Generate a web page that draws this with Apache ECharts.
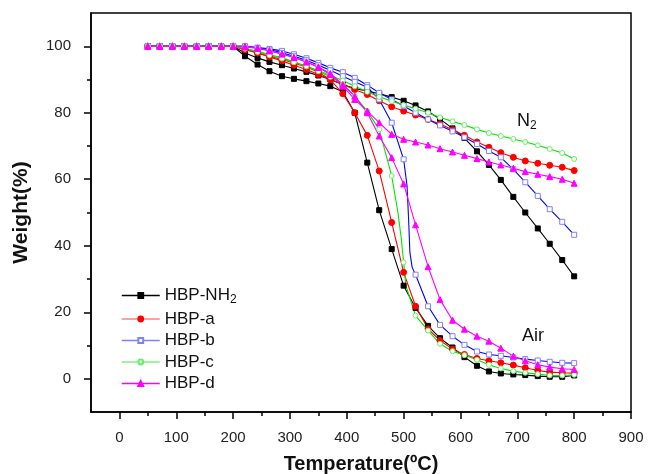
<!DOCTYPE html>
<html>
<head>
<meta charset="utf-8">
<script src="https://cdn.jsdelivr.net/npm/echarts@6/dist/echarts.min.js"></script>
<style>html,body{margin:0;padding:0;background:#fff}#c{width:649px;height:474px}</style>
</head>
<body>
<div id="c"></div>
<script>
// Temperatures (°C) of the marked points
const temps = [50, 71, 93, 114, 136, 157, 179, 200, 221, 243, 264, 286, 307, 329, 350, 371, 393, 414, 436, 457, 479, 500, 521, 543, 564, 586, 607, 629, 650, 671, 693, 714, 736, 757, 779, 800];
const plateau = [100, 100, 100, 100, 100, 100, 100, 100];

// Weight (%) values, N2 and Air, per sample
const nh2N2 = plateau.concat([98, 96.5, 95.3, 94.3, 93.3, 92.3, 91.2, 90, 88.5, 87.3, 86.5, 85.7, 84.7, 83.6, 82.2, 80.4, 78.1, 75.3, 72.4, 68.4, 64.3, 59.8, 54.7, 50.0, 45.2, 40.6, 35.7, 30.8]);
const nh2Air = plateau.concat([97, 94.5, 92.5, 91, 90.2, 89.5, 88.8, 88, 86.3, 80, 65, 50.7, 39, 28, 21.3, 15.9, 12.2, 9.4, 6.5, 3.9, 2.2, 1.6, 1.3, 1.1, 0.8, 0.6, 0.6, 1.0]);
const aN2 = plateau.concat([99, 98, 96.8, 95.6, 94.3, 93, 91.5, 90, 88.5, 87, 85.5, 83.6, 81.8, 80.5, 79.3, 78, 76.6, 74.9, 73.2, 71.2, 69.6, 68, 66.6, 65.5, 64.8, 64.2, 63.6, 62.6]);
const aAir = plateau.concat([99, 98, 97, 96, 95, 93.8, 92.2, 90, 85.7, 80, 73.2, 62.5, 47, 32, 21.8, 15, 11.5, 8.9, 7.3, 6.1, 5.4, 4.8, 4.1, 3.3, 2.5, 2.0, 1.8, 1.7]);
const bN2 = plateau.concat([100, 99.6, 99.2, 98.6, 97.6, 96.4, 95, 93.5, 92.2, 90.5, 88.3, 86, 84, 82, 80, 78, 76.2, 74.4, 72.6, 70.6, 68.5, 66.6, 63, 59.1, 55, 51, 47.2, 43.3]);
const bAir = plateau.concat([100, 99.5, 99, 98, 97, 95.8, 94.3, 92.8, 91, 89.3, 87.7, 84, 77, 66, 31.3, 21.8, 16.2, 12.8, 10.2, 8.2, 7.3, 6.9, 6.4, 5.9, 5.5, 5.1, 4.8, 4.7]);
const cN2 = plateau.concat([99.3, 98.5, 97.5, 96.5, 95.3, 94, 92.7, 91.2, 89.7, 88, 86.3, 84.8, 83.5, 82.3, 81.2, 80, 78.6, 77.4, 76.3, 75, 73.9, 73, 72.1, 71.2, 70.2, 69.1, 67.9, 66.1]);
const cAir = plateau.concat([99.3, 98.3, 97.3, 96.3, 95.2, 94, 92.5, 90.8, 88.5, 85, 80.5, 75, 61, 35, 19, 14.5, 10.5, 8.3, 7.1, 5.7, 4.2, 3.1, 2.3, 1.8, 1.4, 1.0, 1.0, 1.2]);
const dN2 = plateau.concat([100, 99.5, 98.7, 97.7, 96.6, 95.3, 93.6, 91.5, 88, 84, 80.5, 77, 73.5, 72, 71.2, 70.3, 69.2, 68.2, 67.2, 66.2, 65.2, 64.3, 63.3, 62.3, 61.5, 60.8, 60.0, 58.8]);
const dAir = plateau.concat([99.8, 99.3, 98.6, 97.7, 96.6, 95.3, 93.8, 91.8, 88.5, 85, 80, 73, 66.5, 58.6, 46.3, 33.7, 23.8, 17.6, 14.9, 12.8, 11.3, 9.2, 6.8, 5.4, 4.2, 3.5, 3.0, 2.8]);

// Unmarked points along the steep drops (temperature, weight)
const bAirStepT = [506, 509, 511, 515];
const bAirStepW = [58, 47, 38, 33.5];
const cAirStepT = [490, 496, 504];
const cAirStepW = [50, 42, 28];

// Axis tick labels
const xTicks = [0, 100, 200, 300, 400, 500, 600, 700, 800, 900];
const xMinorTicks = [50, 150, 250, 350, 450, 550, 650, 750, 850];
const yTicks = [0, 20, 40, 60, 80, 100];
const yMinorTicks = [10, 30, 50, 70, 90];

const samples = ['HBP-NH2', 'HBP-a', 'HBP-b', 'HBP-c', 'HBP-d'];

function pts(w, extraT, extraW) {
  const arr = temps.map((t, i) => ({ value: [t, w[i]] }));
  if (extraT) {
    extraT.forEach((t, i) => arr.push({ value: [t, extraW[i]], symbol: 'none' }));
    arr.sort((a, b) => a.value[0] - b.value[0]);
  }
  return arr;
}

const styles = {
  'HBP-NH2': { line: '#000000', symbol: 'rect', size: 5, fill: '#000000', border: '#000000', legendLine: '#000000' },
  'HBP-a': { line: '#ff0000', symbol: 'circle', size: 6, fill: '#ff0000', border: '#ff0000', legendLine: '#ff8080' },
  'HBP-b': { line: '#0000ff', symbol: 'rect', size: 5, fill: '#ffffff', border: '#8080ff', legendLine: '#8080ff' },
  'HBP-c': { line: '#00e600', symbol: 'circle', size: 5, fill: '#ffffff', border: '#66ee66', legendLine: '#80f080' },
  'HBP-d': { line: '#ff00ff', symbol: 'triangle', size: 6, fill: '#ff00ff', border: '#ff00ff', legendLine: '#ff00ff' }
};

function mkSeries(name, data) {
  const s = styles[name];
  return {
    name: name, type: 'line', data: data, xAxisIndex: 0, yAxisIndex: 0,
    symbol: s.symbol, symbolSize: s.size, showAllSymbol: true,
    lineStyle: { color: s.line, width: 1.1 },
    itemStyle: { color: s.fill, borderColor: s.border, borderWidth: 1 },
    emphasis: { disabled: true }, animation: false, z: 3
  };
}

const series = [
  mkSeries('HBP-NH2', pts(nh2N2)), mkSeries('HBP-NH2', pts(nh2Air)),
  mkSeries('HBP-a', pts(aN2)), mkSeries('HBP-a', pts(aAir)),
  mkSeries('HBP-b', pts(bN2)), mkSeries('HBP-b', pts(bAir, bAirStepT, bAirStepW)),
  mkSeries('HBP-c', pts(cN2)), mkSeries('HBP-c', pts(cAir, cAirStepT, cAirStepW)),
  mkSeries('HBP-d', pts(dN2)), mkSeries('HBP-d', pts(dAir))
];

const font = 'Liberation Sans, Arial, sans-serif';
const chart = echarts.init(document.getElementById('c'), null, { renderer: 'canvas' });
chart.setOption({
  animation: false,
  backgroundColor: '#fff',
  grid: { left: 91, right: 18, top: 13, bottom: 62, containLabel: false, outerBoundsMode: 'none',
    show: true, borderColor: '#000', borderWidth: 1.5, backgroundColor: 'transparent' },
  xAxis: [
    { type: 'value', min: -50, max: 900, position: 'bottom',
      axisLine: { show: true, onZero: false, lineStyle: { color: '#000', width: 1.5 } },
      axisTick: { show: true, customValues: xTicks, length: 7, inside: false, lineStyle: { color: '#000', width: 1.5 } },
      axisLabel: { customValues: xTicks, color: '#222', fontSize: 15, fontFamily: font, margin: 18 },
      splitLine: { show: false },
      name: 'Temperature(ºC)', nameLocation: 'middle', nameGap: 42,
      nameTextStyle: { fontWeight: 'bold', fontSize: 20, color: '#111', fontFamily: font } },
    { type: 'value', min: -50, max: 900, position: 'bottom',
      axisLine: { show: false, onZero: false },
      axisTick: { show: true, customValues: xMinorTicks, length: 4, lineStyle: { color: '#000', width: 1.5 } },
      axisLabel: { show: false }, splitLine: { show: false } }
  ],
  yAxis: [
    { type: 'value', min: -10, max: 110, position: 'left',
      axisLine: { show: true, onZero: false, lineStyle: { color: '#000', width: 1.5 } },
      axisTick: { show: true, customValues: yTicks, length: 7, lineStyle: { color: '#000', width: 1.5 } },
      axisLabel: { customValues: yTicks, color: '#222', fontSize: 15, fontFamily: font, margin: 20 },
      splitLine: { show: false },
      name: 'Weight(%)', nameLocation: 'middle', nameGap: 59, nameRotate: 90,
      nameTextStyle: { fontWeight: 'bold', fontSize: 21, color: '#111', fontFamily: font } },
    { type: 'value', min: -10, max: 110, position: 'left',
      axisLine: { show: false, onZero: false },
      axisTick: { show: true, customValues: yMinorTicks, length: 4, lineStyle: { color: '#000', width: 1.5 } },
      axisLabel: { show: false }, splitLine: { show: false } }
  ],
  legend: {
    orient: 'vertical', left: 116, top: 282, itemWidth: 38, itemHeight: 6, itemGap: 4.5,
    selectedMode: false,
    data: samples.map(n => ({ name: n, lineStyle: { color: styles[n].legendLine, width: 1.5 } })),
    formatter: n => n === 'HBP-NH2' ? 'HBP-NH{s|2}' : n,
    textStyle: { fontSize: 17, color: '#111', fontFamily: font, lineHeight: 17,
      rich: { s: { fontSize: 12, fontFamily: font, color: '#111', padding: [9, 0, 0, 0] } } }
  },
  graphic: [
    { type: 'text', left: 517, top: 112, style: { text: 'N{s|2}', fontSize: 18, fontFamily: font, fill: '#111',
      rich: { s: { fontSize: 12, fontFamily: font, fill: '#111', padding: [10, 0, 0, 0] } } } },
    { type: 'text', left: 522, top: 327, style: { text: 'Air', fontSize: 18, fontFamily: font, fill: '#111' } }
  ],
  series: series
});
</script>
</body>
</html>
